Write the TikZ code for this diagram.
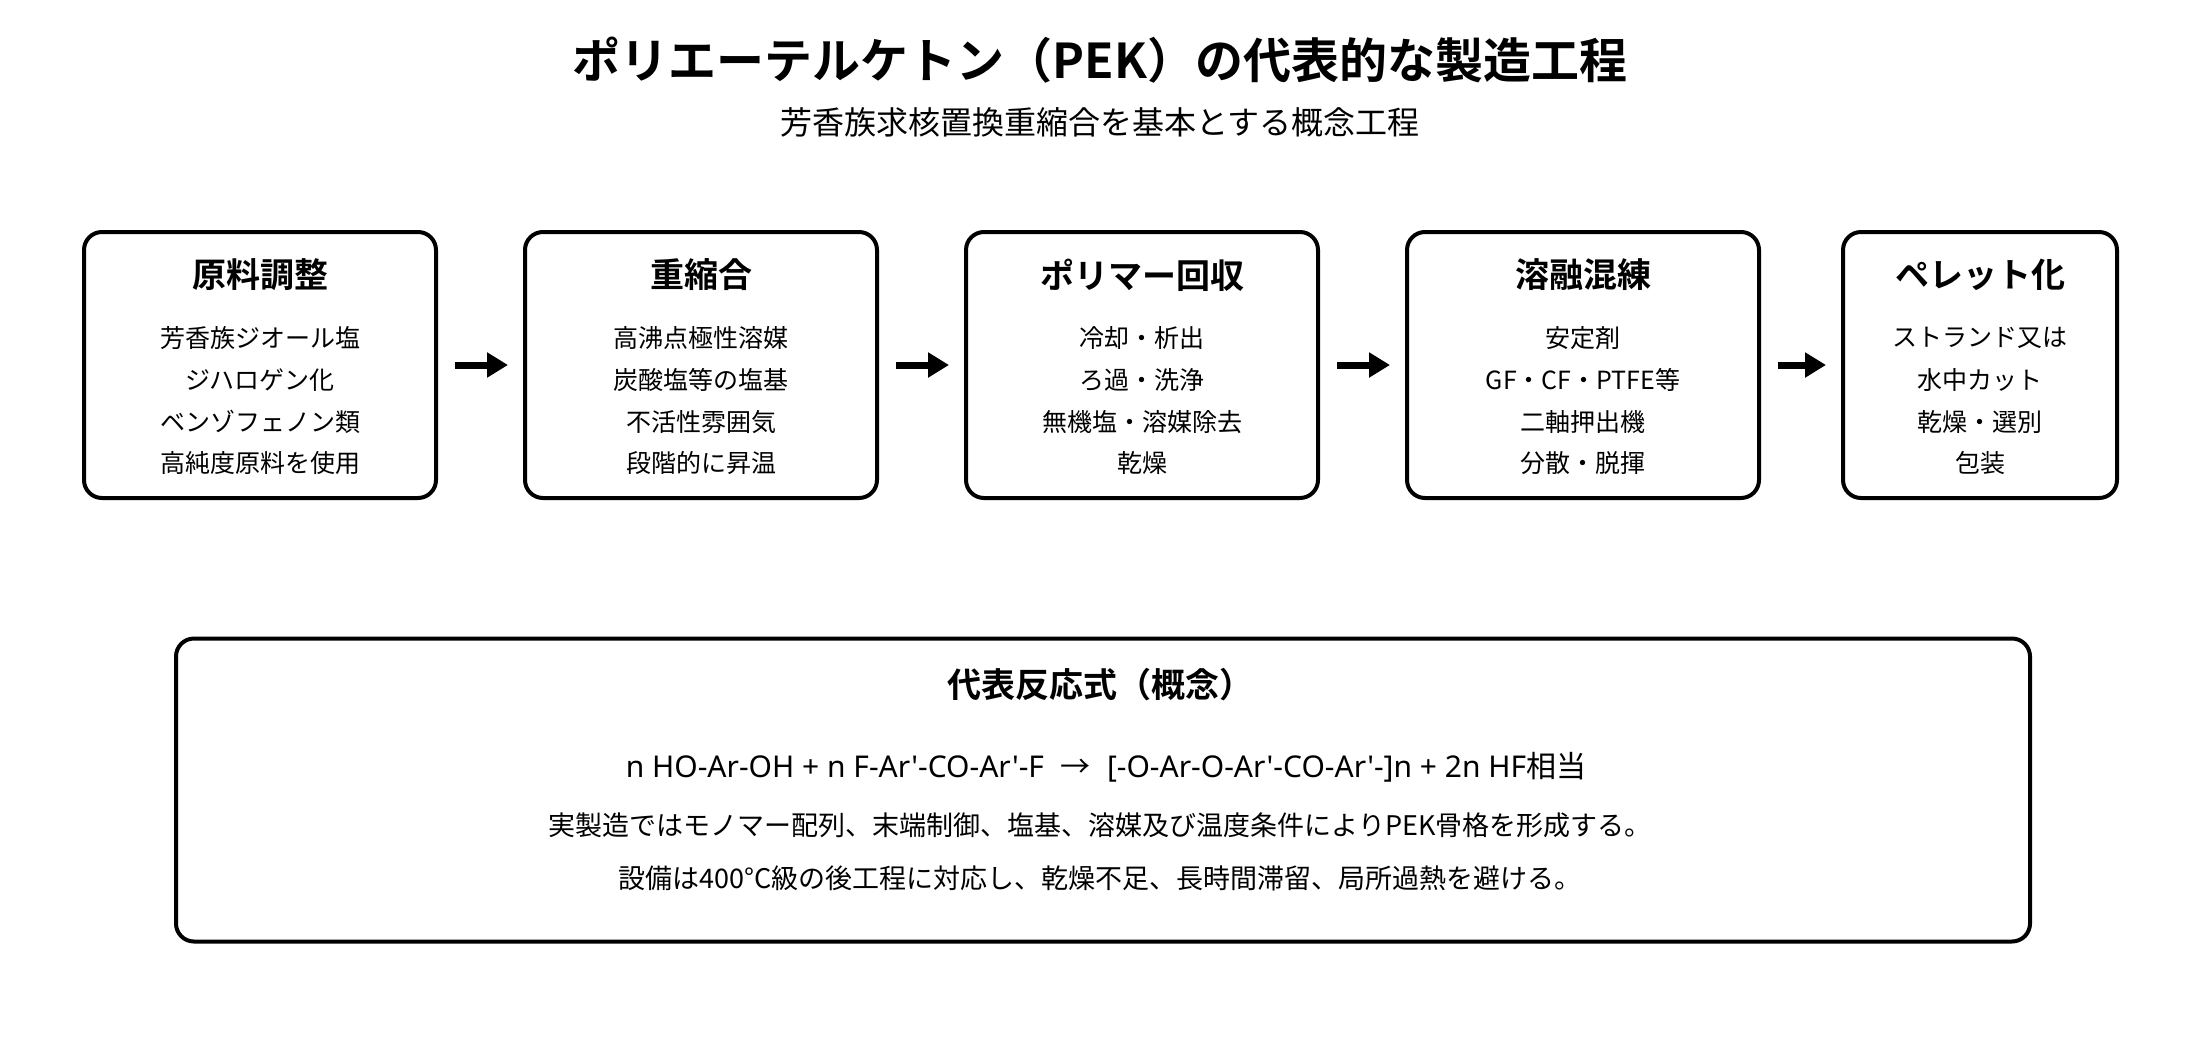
\documentclass[tikz,border=0pt]{standalone}
\usepackage{fontspec}
\setmainfont{Noto Sans CJK JP}[BoldFont={Noto Sans CJK JP Bold}]
\newfontfamily\eqfont{Noto Sans}[Ligatures=TeXOff]
\usetikzlibrary{arrows.meta}
\begin{document}
\begin{tikzpicture}[x=1pt,y=-1pt,
  procbox/.style={draw,line width=4pt,rounded corners=18pt,minimum height=266pt,inner sep=0pt},
  boxtitle/.style={font=\fontsize{34}{40}\selectfont\bfseries},
  boxline/.style={font=\fontsize{25}{30}\selectfont},
  noteline/.style={font=\fontsize{27}{32}\selectfont},
  flowarrow/.style={-{Triangle[length=21pt,width=24pt]},line width=7pt,shorten <=17pt,shorten >=15pt}]
\useasboundingbox (0,0) rectangle (2200,1050);
\node (title) at (1100,60) {\fontsize{48}{56}\selectfont\bfseries ポリエーテルケトン（PEK）の代表的な製造工程};
\node (subtitle) at (1100,122) {\fontsize{32}{38}\selectfont 芳香族求核置換重縮合を基本とする概念工程};
% process steps
\foreach \cx/\w/\nm/\ttl/\la/\lb/\lc/\ld in {
  260/352/raw/原料調整/芳香族ジオール塩/ジハロゲン化/ベンゾフェノン類/高純度原料を使用,
  701/352/poly/重縮合/高沸点極性溶媒/炭酸塩等の塩基/不活性雰囲気/段階的に昇温,
  1142/352/recov/ポリマー回収/冷却・析出/ろ過・洗浄/無機塩・溶媒除去/乾燥,
  1583/352/melt/溶融混練/安定剤/GF・CF・PTFE等/二軸押出機/分散・脱揮,
  1980/274/pellet/ペレット化/ストランド又は/水中カット/乾燥・選別/包装}{
  \node[procbox,minimum width=\w pt] (\nm) at (\cx,365) {};
  \node[boxtitle] (\nm-t) at (\cx,275) {\ttl};
  \node[boxline] (\nm-1) at (\cx,338) {\la};
  \node[boxline] (\nm-2) at (\cx,380) {\lb};
  \node[boxline] (\nm-3) at (\cx,422) {\lc};
  \node[boxline] (\nm-4) at (\cx,463) {\ld};
}
\draw[flowarrow] (raw) -- (poly);
\draw[flowarrow] (poly) -- (recov);
\draw[flowarrow] (recov) -- (melt);
\draw[flowarrow] (melt) -- (pellet);
% reaction panel
\node[procbox,minimum width=1854pt,minimum height=303pt] (rxn) at (1103,790) {};
\node[boxtitle] (rxn-t) at (1100,685) {代表反応式（概念）};
\node[font=\fontsize{30}{36}\selectfont] (rxn-eq) at (1106,767) {{\eqfont n HO-Ar-OH + n F-Ar'-CO-Ar'-F}\hspace{0.55em}→\hspace{0.55em}{\eqfont [-O-Ar-O-Ar'-CO-Ar'-]n + 2n HF}相当};
\node[noteline] (rxn-1) at (1100,825) {実製造ではモノマー配列、末端制御、塩基、溶媒及び温度条件によりPEK骨格を形成する。};
\node[noteline] (rxn-2) at (1100,878) {設備は400°C級の後工程に対応し、乾燥不足、長時間滞留、局所過熱を避ける。};
\end{tikzpicture}
\end{document}
